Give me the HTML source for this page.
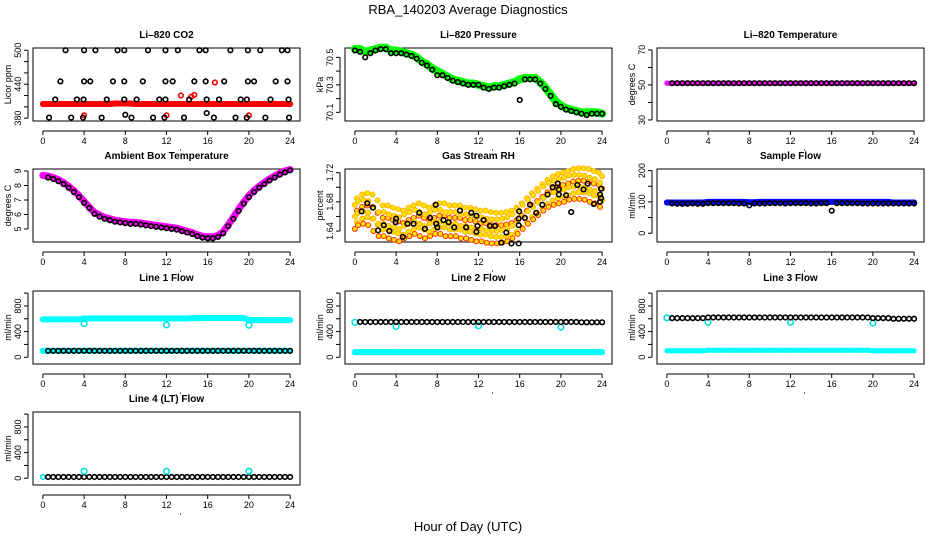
<!DOCTYPE html>
<html><head><meta charset="utf-8"><style>
html,body{margin:0;padding:0;background:#fff;}
svg{display:block;font-family:"Liberation Sans",Arial,sans-serif;}
</style></head><body>
<svg id="chart" width="936" height="540" viewBox="0 0 936 540">
<text x="468" y="14" text-anchor="middle" font-size="13">RBA_140203  Average Diagnostics</text>
<text x="468" y="531" text-anchor="middle" font-size="13">Hour of Day (UTC)</text>
</svg>
<script>
// ---- data (0..24 h, step 0.5 h for bands) ----
const hours = [0,0.5,1,1.5,2,2.5,3,3.5,4,4.5,5,5.5,6,6.5,7,7.5,8,8.5,9,9.5,10,10.5,11,11.5,12,12.5,13,13.5,14,14.5,15,15.5,16,16.5,17,17.5,18,18.5,19,19.5,20,20.5,21,21.5,22,22.5,23,23.5,24];
const xTicks = [0,4,8,12,16,20,24];

const co2Band = [405,405,405,405,405,405,405,405,405,405,405,405,405,405,406,406,406,406,405,405,405,405,405,405,405,405,405,405,405,405,405,405,405,405,405,405,405,405,405,405,405,405,405,405,405,405,405,405,405];
const co2BlackX = [2.2,4.0,5.1,7.25,7.9,10.2,11.9,13.1,15.2,15.8,18.2,19.9,21.1,23.2,23.75, 1.7,4.0,4.6,6.8,7.9,9.7,11.9,12.6,14.7,15.8,17.6,19.9,20.5,22.6,23.75, 1.2,3.3,3.95,6.2,7.9,9.1,11.3,11.9,14.2,15.9,17.1,19.2,19.8,22.1,23.85, 0.6,2.75,3.9,5.7,8.0,8.6,10.7,11.8,13.7,15.9,16.6,18.7,19.8,21.6,23.9];
const co2BlackY = [500,500,500,500,500,500,500,500,500,500,500,500,500,500,500, 445,445,445,445,445,445,445,445,445,445,445,445,445,445,445, 413,413,413,413,413,413,413,413,413,413,413,413,413,413,413, 381,381,381,381,386,381,381,381,381,389,381,381,381,381,381];
const co2RedX = [4.0,12.0,20.0,13.4,14.4,14.7,16.7];
const co2RedY = [385,385,385,420,418,421,443];

const presBand = [70.56,70.56,70.54,70.55,70.56,70.57,70.57,70.55,70.55,70.54,70.53,70.52,70.50,70.47,70.45,70.42,70.40,70.38,70.36,70.34,70.33,70.32,70.31,70.31,70.30,70.29,70.28,70.29,70.29,70.30,70.31,70.32,70.34,70.35,70.35,70.35,70.32,70.28,70.23,70.18,70.15,70.13,70.12,70.11,70.10,70.10,70.10,70.10,70.09];
const presDots = [70.55,70.54,70.50,70.53,70.55,70.56,70.56,70.53,70.53,70.53,70.52,70.51,70.49,70.46,70.44,70.41,70.37,70.37,70.35,70.33,70.32,70.31,70.30,70.30,70.30,70.28,70.27,70.28,70.28,70.29,70.30,70.31,70.19,70.34,70.34,70.34,70.31,70.27,70.22,70.16,70.14,70.12,70.11,70.10,70.09,70.08,70.09,70.09,70.09];

const tempBand = [51,51,51,51,51,51,51,51,51,51,51,51,51,51,51,51,51,51,51,51,51,51,51,51,51,51,51,51,51,51,51,51,51,51,51,51,51,51,51,51,51,51,51,51,51,51,51,51,51];
const tempDots = [51,51,51,51,51,51,51,51,51,51,51,51,51,51,51,51,51,51,51,51,51,51,51,51,51,51,51,51,51,51,51,51,51,51,51,51,51,51,51,51,51,51,51,51,51,51,51,51,51];

const ambBand = [8.7,8.65,8.55,8.4,8.2,7.95,7.65,7.3,6.9,6.5,6.15,5.95,5.8,5.7,5.6,5.55,5.5,5.45,5.45,5.4,5.35,5.3,5.25,5.2,5.15,5.1,5.05,4.95,4.85,4.75,4.6,4.5,4.45,4.45,4.55,4.8,5.3,5.8,6.35,6.85,7.3,7.65,7.95,8.2,8.45,8.65,8.85,9.0,9.1];
const ambDots = [8.65,8.55,8.45,8.3,8.1,7.85,7.55,7.2,6.8,6.45,6.05,5.85,5.7,5.6,5.5,5.45,5.4,5.35,5.35,5.3,5.25,5.2,5.15,5.1,5.05,5.0,4.95,4.85,4.75,4.65,4.5,4.4,4.35,4.35,4.45,4.7,5.2,5.7,6.25,6.75,7.2,7.55,7.85,8.1,8.35,8.55,8.75,8.9,9.05];

const rhCloud = [1.665,1.67,1.672,1.67,1.662,1.655,1.655,1.652,1.65,1.648,1.652,1.655,1.658,1.655,1.652,1.655,1.658,1.658,1.655,1.655,1.655,1.652,1.652,1.65,1.648,1.648,1.646,1.645,1.645,1.646,1.648,1.652,1.658,1.665,1.672,1.678,1.684,1.69,1.695,1.698,1.70,1.702,1.705,1.706,1.706,1.705,1.702,1.70,1.695];
const rhDotX = [0.65,1.2,1.75,2.25,2.8,3.35,3.95,4.0,4.65,5.1,5.7,6.25,6.8,7.3,7.85,7.9,8.0,8.6,9.1,9.65,10.2,10.8,11.3,11.8,11.8,11.9,12.5,13.1,13.6,14.2,14.7,15.2,15.9,15.9,15.9,15.95,16.5,17.0,17.6,18.2,18.7,19.2,19.7,19.8,19.8,20.5,21.0,21.6,22.2,22.6,23.2,23.8,23.9,23.9,23.8];
const rhDotY = [1.667,1.678,1.672,1.641,1.648,1.640,1.652,1.657,1.632,1.650,1.650,1.665,1.643,1.658,1.676,1.650,1.645,1.655,1.652,1.645,1.668,1.645,1.665,1.661,1.639,1.647,1.655,1.647,1.647,1.624,1.638,1.623,1.623,1.657,1.648,1.667,1.658,1.676,1.665,1.676,1.690,1.700,1.705,1.697,1.690,1.689,1.666,1.703,1.697,1.705,1.677,1.690,1.685,1.698,1.680];

const sampBand = [98,98,98,98,98,98,98,98,100,100,100,100,100,100,100,100,99,99,100,100,100,100,100,100,100,100,100,100,100,100,100,100,100,100,100,100,100,100,100,100,100,100,100,100,98,98,98,98,98];
const sampDots = [95,95,94,94,94,95,94,94,96,96,96,96,96,96,95,95,89,95,95,95,96,96,96,95,96,96,96,96,95,95,96,96,72,96,96,96,96,96,95,95,95,95,95,95,95,95,95,95,95];

const l1High = [590,590,590,590,590,590,590,590,605,605,605,605,605,605,605,605,605,605,605,605,605,605,605,605,605,605,605,605,605,610,610,610,612,612,612,612,612,612,612,612,580,580,580,580,580,580,580,580,580];
const l1Low = [100,100,100,100,100,100,100,100,100,100,100,100,100,100,100,100,100,100,100,100,100,100,100,100,100,100,100,100,100,100,100,100,100,100,100,100,100,100,100,100,100,100,100,100,100,100,100,100,100];
const l1OutX = [4,12,20];
const l1OutY = [525,505,500];

const l2Black = [550,550,550,550,550,550,550,550,550,550,550,550,550,550,550,550,550,550,550,550,550,550,550,550,550,550,550,550,550,550,550,550,550,550,550,550,550,550,550,550,550,550,550,550,545,545,545,545,545];
const l2Cyan = [80,80,80,80,80,80,80,80,80,80,80,80,80,80,80,80,80,80,80,80,80,80,80,80,80,80,80,80,80,80,80,80,80,80,80,80,80,80,80,80,80,80,80,80,80,80,80,80,80];
const l2OutX = [0,4,12,20];
const l2OutY = [545,480,490,470];

const l3Black = [610,610,610,610,610,610,610,610,620,620,620,620,620,620,620,620,620,620,620,620,620,620,620,620,620,620,620,620,620,620,620,620,620,620,620,620,620,620,620,620,610,610,610,610,600,600,600,600,600];
const l3Cyan = [100,100,100,100,100,100,100,100,110,110,110,110,110,110,110,110,110,110,110,110,110,110,110,110,110,110,110,110,110,110,110,110,110,110,110,110,110,110,110,110,100,100,100,100,100,100,100,100,100];
const l3OutX = [0,4,12,20];
const l3OutY = [615,545,545,535];

const l4Black = [20,20,20,20,20,20,20,20,20,20,20,20,20,20,20,20,20,20,20,20,20,20,20,20,20,20,20,20,20,20,20,20,20,20,20,20,20,20,20,20,20,20,20,20,20,20,20,20,20];
const l4Cyan = [20,20,20,20,20,20,20,20,20,20,20,20,20,20,20,20,20,20,20,20,20,20,20,20,20,20,20,20,20,20,20,20,20,20,20,20,20,20,20,20,20,20,20,20,20,20,20,20,20];
const l4OutX = [4,12,20];
const l4OutY = [110,110,110];

const co2Ticks = [380,400,420,440,460,480,500], co2Labels = [380,440,500];
const presTicks = [70.1,70.2,70.3,70.4,70.5], presLabels = [70.1,70.3,70.5];
const tempTicks = [30,40,50,60,70], tempLabels = [30,50,70];
const ambTicks = [5,6,7,8,9], ambLabels = [5,6,7,8,9];
const rhTicks = [1.64,1.66,1.68,1.70,1.72], rhLabels = [1.64,1.68,1.72];
const sampTicks = [0,50,100,150,200], sampLabels = [0,100,200];
const flowTicks = [0,200,400,600,800,1000], flowLabels = [0,400,800];

// ---- layout ----
const NS = "http://www.w3.org/2000/svg";
const svg = document.getElementById('chart');
const colL = [33,345,657], rowT = [48,169,291,412], PW = 267, PH = 73;
function mk(tag, attrs, parent){ const e=document.createElementNS(NS,tag); for(const k in attrs) e.setAttribute(k,attrs[k]); (parent||svg).appendChild(e); return e; }
function fmt(v){ return (Math.abs(v-Math.round(v))<1e-9)? String(Math.round(v)) : String(+v.toFixed(2)); }

function panel(c, r, title, ylab, ylim, ticks, labels, name){
  const L=colL[c], T=rowT[r];
  const g = mk('g',{});
  
  
  const sx = h => L + 9.9 + h*(247.2/24);
  const sy = v => T + PH - (v-ylim[0])/(ylim[1]-ylim[0])*PH;
  const t = mk('text',{x:L+PW/2,y:T-10,'text-anchor':'middle','font-size':10,'font-weight':'bold'},g);
  t.textContent = title;
  
  
  const box = mk('rect',{x:L,y:T,width:PW,height:PH,fill:'none',stroke:'#000','stroke-width':1},g);
  
  
  const xa = mk('g',{},g);
  
  
  const ay = T+PH+10;
  mk('line',{x1:sx(xTicks[0]),x2:sx(xTicks[xTicks.length-1]),y1:ay,y2:ay,stroke:'#000'},xa);
  xTicks.forEach(h=>{
    mk('line',{x1:sx(h),x2:sx(h),y1:ay,y2:ay+4,stroke:'#000'},xa);
    const tl = mk('text',{x:sx(h),y:ay+13,'text-anchor':'middle','font-size':9},xa);
    tl.textContent = h;
    
    
  });
  mk('circle',{cx:sx(12)+14,cy:ay+19,r:0.6,fill:'#000'},xa);
  const ya = mk('g',{},g);
  
  
  const ax = L-5;
  mk('line',{x1:ax,x2:ax,y1:sy(ticks[0]),y2:sy(ticks[ticks.length-1]),stroke:'#000'},ya);
  ticks.forEach(v=>{ mk('line',{x1:ax-4,x2:ax,y1:sy(v),y2:sy(v),stroke:'#000'},ya); });
  labels.forEach(v=>{
    const tl = mk('text',{x:0,y:0,'text-anchor':'middle','font-size':9,transform:`translate(${ax-7},${sy(v)}) rotate(-90)`},ya);
    tl.textContent = fmt(v);
    
    
  });
  const yt = mk('text',{x:0,y:0,'text-anchor':'middle','font-size':9,transform:`translate(${L-22},${T+PH/2}) rotate(-90)`},g);
  yt.textContent = ylab;
  
  
  const marks = mk('g',{},g);
  
  
  return {sx, sy, g:marks};
}

function band(p, xs, ys, color, w, nm){
  const pts = xs.map((h,i)=>p.sx(h).toFixed(1)+','+p.sy(ys[i]).toFixed(1)).join(' ');
  const pl = mk('polyline',{points:pts,fill:'none',stroke:color,'stroke-width':w,'stroke-linejoin':'round','stroke-linecap':'round'},p.g);
  
  
  xs.forEach((h,i)=>{
    mk('circle',{cx:p.sx(h),cy:p.sy(ys[i]),r:w/2,fill:color,stroke:'none'},p.g);
  });
}
function dots(p, xs, ys, color, nm, r){
  xs.forEach((h,i)=>{
    const c = mk('circle',{cx:p.sx(h),cy:p.sy(ys[i]),r:r||2.3,fill:'none',stroke:color,'stroke-width':1.6},p.g);
    
    
  });
}

let p = panel(0,0,'Li\u2013820 CO2','Licor ppm',[375,504],co2Ticks,co2Labels,'co2');
band(p,hours,co2Band,'#ff0000',6,'co2-band');
dots(p,co2RedX,co2RedY,'#ff0000','co2-red-point');
dots(p,co2BlackX,co2BlackY,'#000','co2-black-point');

p = panel(1,0,'Li\u2013820 Pressure','kPa',[70.037,70.568],presTicks,presLabels,'pressure');
band(p,hours,presBand,'#00ff00',8,'pressure-band');
dots(p,hours,presDots,'#000','pressure-point');

p = panel(2,0,'Li\u2013820 Temperature','degrees C',[29.4,71.1],tempTicks,tempLabels,'li820-temp');
band(p,hours,tempBand,'#ff00ff',5,'li820-temp-band');
dots(p,hours.slice(1),tempDots.slice(1),'#000','li820-temp-point');

p = panel(0,1,'Ambient Box Temperature','degrees C',[4.10,9.14],ambTicks,ambLabels,'ambient');
band(p,hours,ambBand,'#ff00ff',7,'ambient-band');
dots(p,hours.slice(1),ambDots.slice(1),'#000','ambient-point');

p = panel(1,1,'Gas Stream RH','percent',[1.625,1.725],rhTicks,rhLabels,'rh');
const offs = [-0.022,-0.013,-0.005,0.003,0.011,0.020];
hours.forEach((h,i)=>{
  offs.forEach((o,j)=>{
    const xo = (j%2? 0.2:-0.2);
    mk('circle',{cx:p.sx(Math.min(24,Math.max(0,h+xo))),cy:p.sy(rhCloud[i]+o),r:2.5,fill:'#ffe000',stroke:(j%3===0?'#ff2000':'#ffb000'),'stroke-width':0.9},p.g);
  });
});
dots(p,rhDotX,rhDotY,'#000','rh-point');

p = panel(2,1,'Sample Flow','ml/min',[-28,205],sampTicks,sampLabels,'sample-flow');
band(p,hours,sampBand,'#0000ff',6,'sample-flow-band');
dots(p,hours.slice(1),sampDots.slice(1),'#000','sample-flow-point');

p = panel(0,2,'Line 1 Flow','ml/min',[-105,1033],flowTicks,flowLabels,'line1');
band(p,hours,l1High,'#00ffff',6,'line1-high-band');
band(p,hours,l1Low,'#00ffff',6,'line1-low-band');
dots(p,hours.slice(1),l1Low.slice(1),'#000','line1-low-point');
dots(p,l1OutX,l1OutY,'#00e0e0','line1-outlier',2.8);

p = panel(1,2,'Line 2 Flow','ml/min',[-105,1033],flowTicks,flowLabels,'line2');
band(p,hours,l2Cyan,'#00ffff',6,'line2-cyan-band');
dots(p,l2OutX,l2OutY,'#00e0e0','line2-outlier',2.8);
dots(p,hours.slice(1),l2Black.slice(1),'#000','line2-black-point');

p = panel(2,2,'Line 3 Flow','ml/min',[-105,1033],flowTicks,flowLabels,'line3');
band(p,hours,l3Cyan,'#00ffff',5,'line3-cyan-band');
dots(p,l3OutX,l3OutY,'#00e0e0','line3-outlier',2.8);
dots(p,hours.slice(1),l3Black.slice(1),'#000','line3-black-point');

p = panel(0,3,'Line 4 (LT) Flow','ml/min',[-105,1033],flowTicks,flowLabels,'line4');
dots(p,[0],[l4Cyan[0]],'#00e0e0','line4-cyan-point');
dots(p,hours.slice(1),l4Black.slice(1),'#000','line4-black-point');
dots(p,l4OutX,l4OutY,'#00e0e0','line4-outlier',2.8);
</script>
</body></html>
